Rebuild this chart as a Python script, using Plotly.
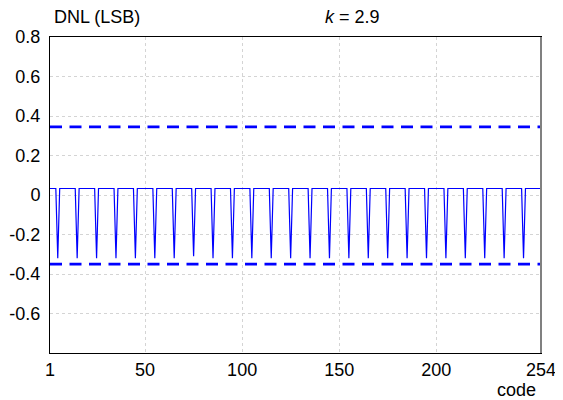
import plotly.graph_objects as go

# ---- data ----
codes = list(range(1, 255))                    # code axis 1..254
high_level = 0.033                              # DNL between dips (LSB)
dip_codes = [5, 15, 25, 35, 45, 55, 65, 75, 85, 95, 105, 115, 125,
             135, 145, 155, 165, 175, 185, 195, 205, 215, 225, 235, 245]
dip_values = [-0.32, -0.32, -0.32, -0.32, -0.32, -0.32, -0.32, -0.31, -0.32,
              -0.32, -0.32, -0.32, -0.32, -0.32, -0.32, -0.32, -0.32, -0.32,
              -0.32, -0.32, -0.32, -0.32, -0.32, -0.32, -0.32]
limit_upper = 0.345
limit_lower = -0.35
x_tickvals = [1, 50, 100, 150, 200, 254]
x_ticktext = ["1", "50", "100", "150", "200", "254"]
y_tickvals = [-0.6, -0.4, -0.2, 0, 0.2, 0.4, 0.6, 0.8]
y_ticktext = ["-0.6", "-0.4", "-0.2", "0", "0.2", "0.4", "0.6", "0.8"]

dip_map = dict(zip(dip_codes, dip_values))
dnl = [dip_map.get(c, high_level) for c in codes]

BLUE = "#0000ff"
FONT = "Liberation Sans"

fig = go.Figure()
fig.add_trace(go.Scatter(x=codes, y=dnl, mode="lines",
                         line=dict(color=BLUE, width=1.2), hoverinfo="skip"))
for lv in (limit_upper, limit_lower):
    fig.add_trace(go.Scatter(x=[codes[0], codes[-1]], y=[lv, lv], mode="lines",
                             line=dict(color=BLUE, width=2.6, dash="12px,7.5px"),
                             hoverinfo="skip"))

# page body has an 8px margin: figure is sized/margined to compensate
fig.update_layout(
    width=555, height=392,
    margin=dict(l=42, r=22, t=29, b=47, autoexpand=False),
    paper_bgcolor="white", plot_bgcolor="white",
    showlegend=False,
    font=dict(family=FONT, size=18, color="black"),
)
fig.update_xaxes(range=[1, 254], tickvals=x_tickvals, ticktext=x_ticktext,
                 showgrid=True, gridcolor="#d4d4d4", griddash="dot", gridwidth=1,
                 showline=True, linecolor="black", linewidth=1, mirror=True,
                 ticks="", ticklabelstandoff=0, zeroline=False, automargin=False,
                 tickfont=dict(family=FONT, size=18))
fig.update_yaxes(range=[-0.8, 0.8], tickvals=y_tickvals, ticktext=y_ticktext,
                 showgrid=True, gridcolor="#d4d4d4", griddash="dot", gridwidth=1,
                 showline=True, linecolor="black", linewidth=1, mirror=True,
                 ticks="", ticklabelstandoff=5, zeroline=False, automargin=False,
                 tickfont=dict(family=FONT, size=18))

# right border drawn grey and slightly thicker as in the reference
fig.add_shape(type="line", xref="paper", yref="paper", x0=1, x1=1, y0=0, y1=1,
              line=dict(color="#808080", width=2))

fig.add_annotation(text="DNL (LSB)", xref="paper", yref="paper",
                   x=0.004, y=1.062, xanchor="left", yanchor="middle",
                   showarrow=False, font=dict(family=FONT, size=18))
fig.add_annotation(text="<i>k</i> = 2.9", xref="paper", yref="paper",
                   x=0.556, y=1.062, xanchor="left", yanchor="middle",
                   showarrow=False, font=dict(family=FONT, size=18))
fig.add_annotation(text="code", xref="paper", yref="paper",
                   x=0.994, y=-0.117, xanchor="right", yanchor="middle",
                   showarrow=False, font=dict(family=FONT, size=18))

fig.write_html("out.html")
